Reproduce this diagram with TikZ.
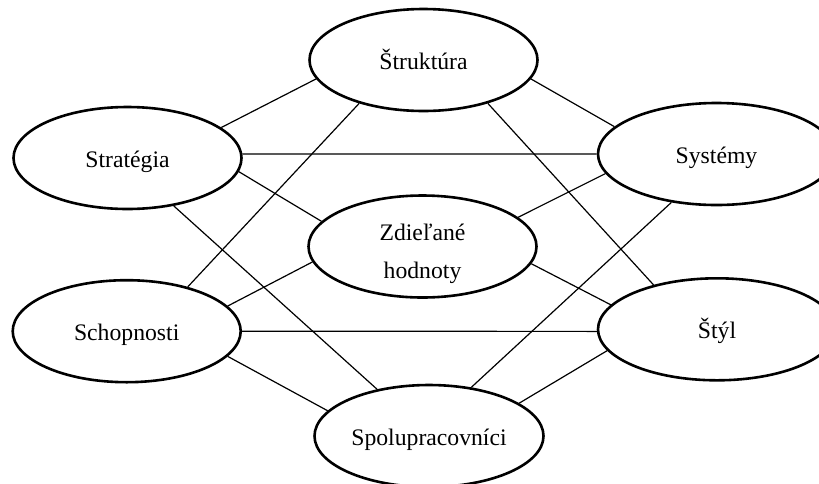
\documentclass[tikz,border=0pt]{standalone}
\usepackage{fontspec}
\setmainfont{Liberation Serif}
\usetikzlibrary{shapes.geometric}
\begin{document}
\begin{tikzpicture}[x=1pt,y=-1pt,
  oval/.style={ellipse,draw=black,line width=2.6pt,fill=white,inner sep=0pt,
    minimum width=228pt,minimum height=102pt,
    font=\fontsize{23.7pt}{38.3pt}\selectfont,text height=18pt,text depth=0pt},
  link/.style={draw=black,line width=1.2pt}]
\useasboundingbox (0,0) rectangle (819,483);
\begin{scope}
\clip (0,0) rectangle (819,483);
\node[oval] (strat) at (127.5,158) {Stratégia};
\node[oval] (strukt) at (423.5,60) {Štruktúra};
\node[oval,minimum width=237pt] (sys) at (716.5,154) {Systémy};
\node[oval,align=center,text height=64pt,text depth=0.4pt] (zdiel) at (422.5,246.5) {Zdieľané\\hodnoty};
\node[oval] (schop) at (126.7,331.2) {Schopnosti};
\node[oval,minimum width=238pt] (styl) at (717,329.3) {Štýl};
\node[oval,minimum width=229pt] (spol) at (429,436) {Spolupracovníci};
\end{scope}
\path[link] (strat.18) -- (strukt.190);
\path[link] (strat.2) -- (sys.180);
\path[link] (strat.-7) -- (zdiel.166);
\path[link] (strat.-46) -- (spol.138);
\path[link] (strukt.214) -- (schop.36);
\path[link] (strukt.-10) -- (sys.165);
\path[link] (strukt.-34) -- (styl.145);
\path[link] (sys.190) -- (zdiel.17);
\path[link] (sys.227) -- (spol.49);
\path[link] (zdiel.188) -- (schop.14);
\path[link] (zdiel.-9) -- (styl.167);
\path[link] (schop.0) -- (styl.181);
\path[link] (schop.-14) -- (spol.166);
\path[link] (styl.191) -- (spol.20);
\end{tikzpicture}
\end{document}
